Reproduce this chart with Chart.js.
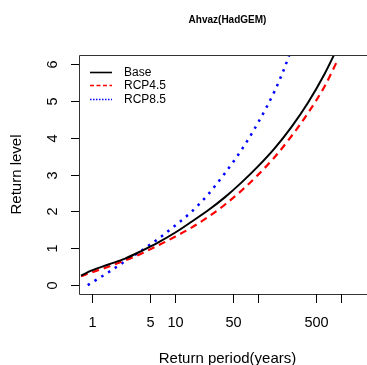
<!DOCTYPE html>
<html>
<head>
<meta charset="utf-8">
<script src="https://cdn.jsdelivr.net/npm/chart.js@4.4.1/dist/chart.umd.min.js"></script>
<style>
  html, body { margin: 0; padding: 0; background: #fff; overflow: hidden; }
  #wrap { width: 390px; height: 365px; }
</style>
</head>
<body>
<div id="wrap"><canvas id="rlChart" width="390" height="365"></canvas></div>
<script>
// return periods (years) and return levels
const baseT = [0.741, 1, 1.585, 2.512, 3.981, 6.31, 10, 15.85, 25.12, 39.81, 63.1, 100, 158.5, 251.2, 398.1, 631, 891];
const baseV = [0.26, 0.40, 0.56, 0.72, 0.93, 1.16, 1.42, 1.72, 2.03, 2.38, 2.78, 3.22, 3.71, 4.28, 4.94, 5.72, 6.40];
const rcp45T = [0.741, 1, 1.585, 2.512, 3.981, 6.31, 10, 15.85, 25.12, 39.81, 63.1, 100, 158.5, 251.2, 398.1, 631, 891];
const rcp45V = [0.24, 0.35, 0.50, 0.67, 0.86, 1.08, 1.31, 1.56, 1.85, 2.18, 2.56, 2.99, 3.47, 4.03, 4.66, 5.38, 6.06];
const rcp85T = [0.891, 1.585, 2.512, 3.981, 6.31, 10, 15.85, 25.12, 39.81, 63.1, 100, 158.5, 199.5, 251.2, 281.8];
const rcp85V = [0.0, 0.35, 0.65, 0.94, 1.26, 1.61, 1.99, 2.46, 3.03, 3.66, 4.40, 5.26, 5.78, 6.38, 6.70];

const xTicks = [1, 5, 10, 50, 100, 500, 1000];
const xTickLabels = ["1", "5", "10", "50", "", "500", ""];
const yTicks = [0, 1, 2, 3, 4, 5, 6];
const seriesNames = ["Base", "RCP4.5", "RCP8.5"];
const seriesColors = ["#000000", "#FF0000", "#0000FF"];
const legendDashes = [[], [4, 2.5], [1.5, 1.5]];

const FONT = '"Liberation Sans", Arial, Helvetica, sans-serif';

function pts(xs, ys) {
    return xs.map((x, i) => ({ x: x, y: ys[i] }));
}

// R style axes, box, titles and legend
const rAxes = {
    id: 'rAxes',
    afterDraw(chart) {
        const ctx = chart.ctx;
        const a = chart.chartArea;
        const xs = chart.scales.x;
        const ys = chart.scales.y;
        const L = Math.round(a.left) + 0.5;
        const T = Math.round(a.top) + 0.5;
        const B = Math.round(a.bottom) + 0.5;
        ctx.save();
        ctx.strokeStyle = '#333';
        ctx.lineWidth = 1;
        ctx.beginPath();
        ctx.moveTo(chart.width, T);
        ctx.lineTo(L, T);
        ctx.lineTo(L, B);
        ctx.lineTo(chart.width, B);
        ctx.stroke();

        ctx.fillStyle = '#000';
        ctx.strokeStyle = '#000';
        // y axis
        ctx.font = '14.5px ' + FONT;
        ctx.textAlign = 'center';
        ctx.textBaseline = 'middle';
        yTicks.forEach(v => {
            const py = Math.round(ys.getPixelForValue(v)) + 0.5;
            ctx.beginPath();
            ctx.moveTo(a.left, py);
            ctx.lineTo(a.left - 8, py);
            ctx.stroke();
            ctx.save();
            ctx.translate(53, py);
            ctx.rotate(-Math.PI / 2);
            ctx.fillText(String(v), 0, 0);
            ctx.restore();
        });
        // x axis
        xTicks.forEach((v, i) => {
            const px = Math.round(xs.getPixelForValue(v)) + 0.5;
            ctx.beginPath();
            ctx.moveTo(px, a.bottom);
            ctx.lineTo(px, a.bottom + 9);
            ctx.stroke();
            if (xTickLabels[i]) ctx.fillText(xTickLabels[i], px, 323);
        });

        const cx = (a.left + a.right) / 2;
        const cy = (a.top + a.bottom) / 2;
        ctx.font = '15px ' + FONT;
        ctx.fillText('Return period(years)', cx, 359);
        ctx.save();
        ctx.translate(17, cy);
        ctx.rotate(-Math.PI / 2);
        ctx.fillText('Return level', 0, 0);
        ctx.restore();

        ctx.font = 'bold 10px ' + FONT;
        ctx.fillText('Ahvaz(HadGEM)', cx, 20);

        // legend
        ctx.font = '12px ' + FONT;
        ctx.textAlign = 'left';
        seriesNames.forEach((name, i) => {
            const ly = Math.round(71.5 + i * 13.8) + 0.5;
            ctx.save();
            ctx.beginPath();
            ctx.strokeStyle = seriesColors[i];
            ctx.lineWidth = 1.6;
            ctx.setLineDash(legendDashes[i]);
            ctx.moveTo(90, ly);
            ctx.lineTo(112, ly);
            ctx.stroke();
            ctx.restore();
            ctx.fillText(name, 124, ly);
        });
        ctx.restore();
    }
};

new Chart(document.getElementById('rlChart'), {
    type: 'line',
    data: {
        datasets: [
            {
                label: seriesNames[0],
                data: pts(baseT, baseV),
                borderColor: seriesColors[0],
                borderWidth: 2,
            },
            {
                label: seriesNames[1],
                data: pts(rcp45T, rcp45V),
                borderColor: seriesColors[1],
                borderWidth: 2.2,
                borderDash: [7, 5],
            },
            {
                label: seriesNames[2],
                data: pts(rcp85T, rcp85V),
                borderColor: seriesColors[2],
                borderWidth: 2.5,
                borderDash: [2.5, 5.5],
            },
        ],
    },
    options: {
        responsive: false,
        animation: false,
        devicePixelRatio: 1,
        cubicInterpolationMode: 'monotone',
        elements: { point: { radius: 0 } },
        layout: { padding: { left: 79, top: 55, right: 14, bottom: 71 } },
        scales: {
            x: {
                type: 'logarithmic',
                display: false,
                min: 0.7386,
                max: 2637,
            },
            y: {
                type: 'linear',
                display: false,
                min: -0.24,
                max: 6.24,
            },
        },
        plugins: {
            legend: { display: false },
            tooltip: { enabled: false },
        },
    },
    plugins: [rAxes],
});
</script>
</body>
</html>
